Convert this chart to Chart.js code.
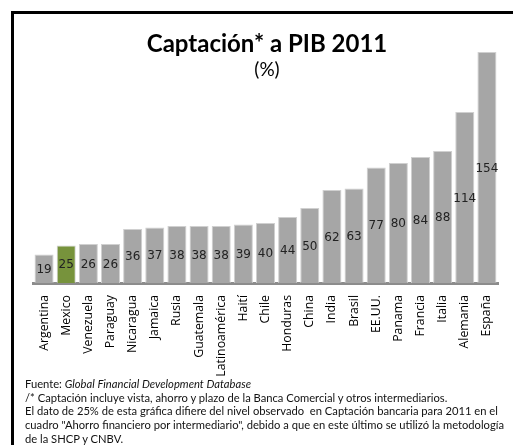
<!DOCTYPE html>
<html>
<head>
<meta charset="utf-8">
<script src="https://cdn.jsdelivr.net/npm/chart.js@4"></script>
<style>
  body { margin: 0; background: #fff; }
  #wrap { position: relative; width: 513px; height: 445px; overflow: hidden; }
  #frame { position: absolute; left: 11px; top: 11px; width: 600px; height: 600px; border: 3px solid #000; }
  #chart { position: absolute; left: 0; top: 0; }
  .title { position: absolute; left: 0; width: 534px; text-align: center; font-family: Lato, sans-serif; color: #000; }
  #t1 { top: 28px; font-size: 24px; font-weight: bold; }
  #t2 { top: 57px; font-size: 19px; }
  #notes { position: absolute; left: 25px; top: 377px; font-family: Lato, sans-serif; font-size: 11.2px; line-height: 13.7px; color: #111; white-space: nowrap; }
</style>
</head>
<body>
<div id="wrap">
  <div id="frame"></div>
  <canvas id="chart" width="513" height="445"></canvas>
  <div class="title" id="t1">Captación* a PIB 2011</div>
  <div class="title" id="t2">(%)</div>
  <div id="notes">
    Fuente: <i>Global Financial Development Database</i><br>
    /* Captación incluye vista, ahorro y plazo de la Banca Comercial y otros intermediarios.<br>
    El dato de 25% de esta gráfica difiere del nivel observado&nbsp; en Captación bancaria para 2011 en el<br>
    cuadro "Ahorro financiero por intermediario", debido a que en este último se utilizó la metodología<br>
    de la SHCP y CNBV.
  </div>
</div>
<script>
const countries = ['Argentina', 'Mexico', 'Venezuela', 'Paraguay', 'Nicaragua', 'Jamaica', 'Rusia',
    'Guatemala', 'Latinoamérica', 'Haití', 'Chile', 'Honduras', 'China', 'India', 'Brasil', 'EE.UU.',
    'Panama', 'Francia', 'Italia', 'Alemania', 'España'];
const captacion = [19, 25, 26, 26, 36, 37, 38, 38, 38, 39, 40, 44, 50, 62, 63, 77, 80, 84, 88, 114, 154];
const highlight = 'Mexico';

const barColors = countries.map(c => c === highlight ? '#77933C' : '#A6A6A6');

// draws the value in the middle of each bar
const valueLabels = {
    id: 'valueLabels',
    afterDatasetsDraw(chart) {
        const ctx = chart.ctx;
        const meta = chart.getDatasetMeta(0);
        ctx.save();
        ctx.font = '12px "DejaVu Sans"';
        ctx.fillStyle = '#222';
        ctx.textAlign = 'center';
        ctx.textBaseline = 'middle';
        meta.data.forEach((bar, i) => {
            ctx.fillText(captacion[i], bar.x, (bar.y + bar.base) / 2 + 1);
        });
        ctx.restore();
    }
};

new Chart(document.getElementById('chart').getContext('2d'), {
    type: 'bar',
    data: {
        labels: countries,
        datasets: [{
            data: captacion,
            backgroundColor: barColors,
            borderColor: '#D0D0D0',
            borderWidth: 1,
            barPercentage: 0.86,
            categoryPercentage: 1
        }]
    },
    options: {
        responsive: false,
        animation: false,
        layout: { padding: { left: 33, right: 15, top: 43, bottom: 0 } },
        plugins: {
            legend: { display: false },
            tooltip: { enabled: false }
        },
        scales: {
            y: {
                display: false,
                min: 0,
                max: 160
            },
            x: {
                grid: { display: false },
                border: { display: true, color: '#8C8C8C', width: 3 },
                ticks: {
                    color: '#000',
                    minRotation: 90,
                    maxRotation: 90,
                    padding: 4,
                    font: { family: '"Open Sans"', size: 12.3 }
                },
                afterFit(scale) { scale.height = 162; }
            }
        }
    },
    plugins: [valueLabels]
});
</script>
</body>
</html>
